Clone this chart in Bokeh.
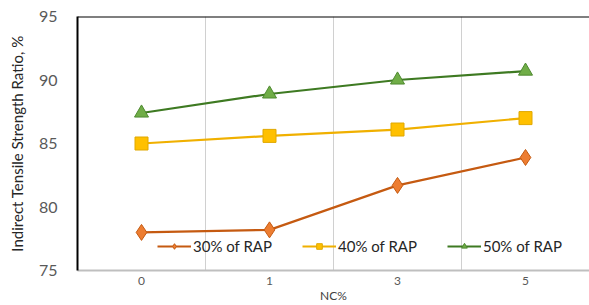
from bokeh.plotting import figure
from bokeh.models import FixedTicker, Span, Legend, LegendItem
from bokeh.embed import file_html
from bokeh.resources import INLINE

nc_labels = ["0", "1", "3", "5"]
rap30 = [78.0, 78.2, 81.7, 83.9]
rap40 = [85.0, 85.6, 86.1, 87.0]
rap50 = [87.4, 88.9, 90.0, 90.7]
y_ticks = [75, 80, 85, 90, 95]
x_title = "NC%"

xs = [i + 0.5 for i in range(len(nc_labels))]

p = figure(width=589, height=305, output_backend="svg", toolbar_location=None,
           x_range=(0, len(nc_labels)), y_range=(75, 95),
           min_border_left=77, min_border_right=0, min_border_top=16, min_border_bottom=33)
p.outline_line_color = None
p.background_fill_color = "white"

FONT = "Lato"

# axes
p.xaxis.ticker = FixedTicker(ticks=xs)
p.xaxis.major_label_overrides = {x: l for x, l in zip(xs, nc_labels)}
p.xaxis.axis_line_color = "#bfbfbf"
p.xaxis.axis_line_width = 2
p.xaxis.major_tick_line_color = None
p.xaxis.minor_tick_line_color = None
p.xaxis.major_tick_out = 0
p.xaxis.major_tick_in = 0
p.xaxis.minor_tick_out = 0
p.xaxis.minor_tick_in = 0
p.xaxis.major_label_text_font = FONT
p.xaxis.major_label_text_font_size = "12px"
p.xaxis.major_label_text_color = "#595959"
p.xaxis.major_label_standoff = 6
p.xaxis.axis_label = x_title
p.xaxis.axis_label_text_font = FONT
p.xaxis.axis_label_text_font_size = "12px"
p.xaxis.axis_label_text_font_style = "normal"
p.xaxis.axis_label_text_color = "#404040"
p.xaxis.axis_label_standoff = 0

p.yaxis.ticker = FixedTicker(ticks=y_ticks)
p.yaxis.axis_line_color = "black"
p.yaxis.axis_line_width = 2
p.yaxis.major_tick_line_color = None
p.yaxis.minor_tick_line_color = None
p.yaxis.major_tick_out = 0
p.yaxis.major_tick_in = 0
p.yaxis.minor_tick_out = 0
p.yaxis.minor_tick_in = 0
p.yaxis.major_label_text_font = FONT
p.yaxis.major_label_text_font_size = "16px"
p.yaxis.major_label_text_color = "#595959"
p.yaxis.major_label_standoff = 20
p.yaxis.axis_label = "Indirect Tensile Strength Ratio, %"
p.yaxis.axis_label_text_font = FONT
p.yaxis.axis_label_text_font_size = "15px"
p.yaxis.axis_label_text_font_style = "normal"
p.yaxis.axis_label_text_color = "#262626"
p.yaxis.axis_label_standoff = 10

p.ygrid.grid_line_color = None
p.xgrid.ticker = FixedTicker(ticks=list(range(1, len(nc_labels))))
p.xgrid.grid_line_color = "#d0d0d0"
p.xgrid.grid_line_width = 1

p.add_layout(Span(location=95, dimension="width", line_color="black", line_width=2))

series = [
    ("30% of RAP", rap30, "#C55A11", "#ED7D31", "#C55A11", "diamond", 16),
    ("40% of RAP", rap40, "#F0B000", "#FFC000", "#E0A800", "square", 13),
    ("50% of RAP", rap50, "#3E7A22", "#70AD47", "#4E8A30", "triangle", 14),
]
items = []
for name, ys, lc, fc, mc, mk, sz in series:
    l = p.line(xs, ys, line_color=lc, line_width=2.2)
    s = p.scatter(xs, ys, marker=mk, size=sz, fill_color=fc, line_color=mc, line_width=1)
    items.append(LegendItem(label=name, renderers=[l, s]))

legend = Legend(items=items, orientation="horizontal", location=(80, 15),
                background_fill_alpha=0, border_line_color=None,
                label_text_font=FONT, label_text_font_size="15px", label_text_color="#262626",
                glyph_width=34, glyph_height=14, label_standoff=2, spacing=30,
                padding=0, margin=0)
p.add_layout(legend)

open("out.html", "w").write(file_html(p, INLINE))
